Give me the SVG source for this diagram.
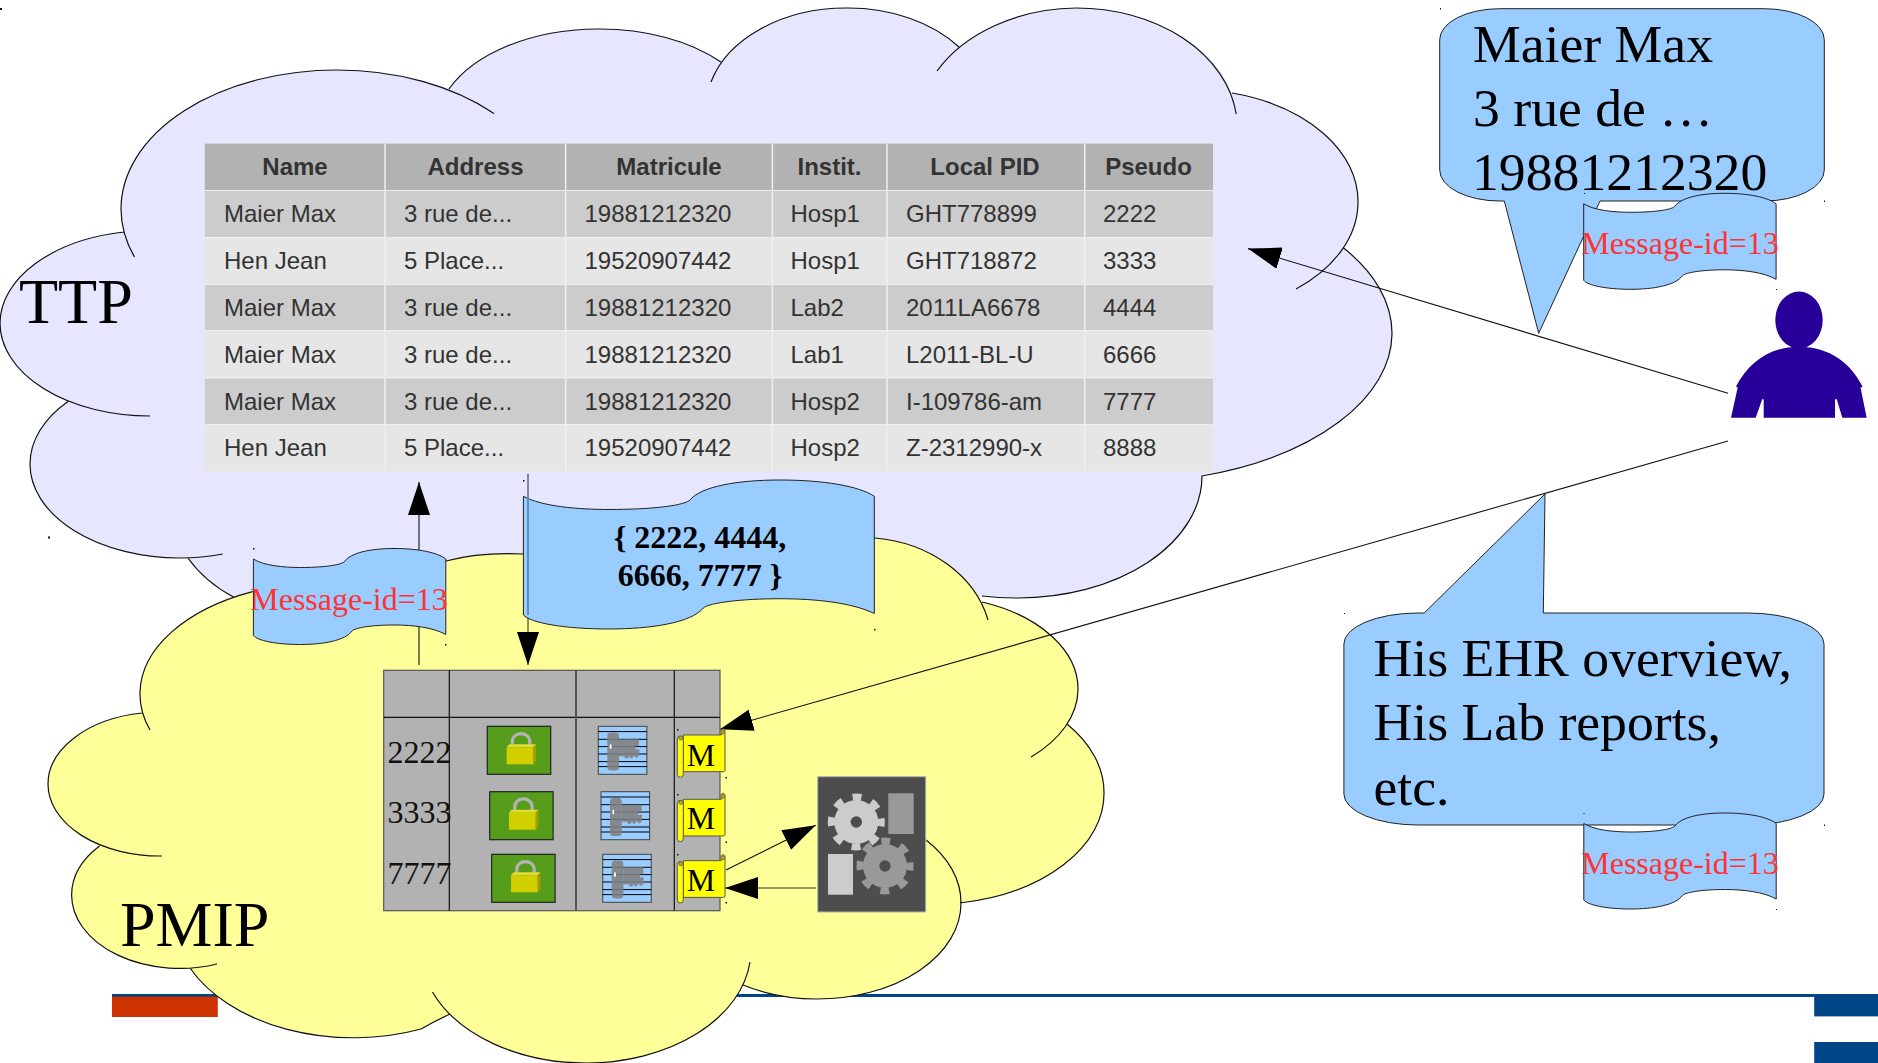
<svg xmlns="http://www.w3.org/2000/svg" xmlns:xlink="http://www.w3.org/1999/xlink" width="1878" height="1063" viewBox="0 0 1878 1063">
<style>
.cl{fill:none;stroke:#111;stroke-width:1.2}
.th{font:bold 24px "Liberation Sans",Arial,sans-serif;fill:#333;text-anchor:middle}
.td{font:24px "Liberation Sans",Arial,sans-serif;fill:#333}
.big{font:64px "Liberation Serif","Times New Roman",serif;fill:#000}
.bub{font:53.7px "Liberation Serif","Times New Roman",serif;fill:#000}
.msg{font:32px "Liberation Serif","Times New Roman",serif;fill:#ff3333;text-anchor:middle}
.num{font:32px "Liberation Serif","Times New Roman",serif;fill:#111}
.mt{font:32px "Liberation Serif","Times New Roman",serif;fill:#000;text-anchor:middle}
.bold{font:bold 32px "Liberation Serif","Times New Roman",serif;fill:#000;text-anchor:middle}
.blue{fill:#99ccff;stroke:#222;stroke-width:1;vector-effect:non-scaling-stroke}
.conn{fill:none;stroke:#111;stroke-width:1.1}
.dot{fill:#111}
</style>
<defs>
<marker id="ah" markerUnits="userSpaceOnUse" markerWidth="33" markerHeight="22" refX="33" refY="11" orient="auto" viewBox="0 0 33 22"><path d="M0,0L33,11L0,22Z" fill="#000"/></marker>
<path id="scroll" class="blue" d="M0,10.5C10,17 30,19 47,19C68,19 86,17 91,13.3C97,4 118,0 140.6,0C165,0 184,4 192.4,10.5V86C180,79 160,76.5 140.6,76.5C120,76.5 102,79 98.6,82.5C92,92 70,96 47,96C22,96 4,92 0,87Z"/>
<g id="lock">
<rect width="63.4" height="48" fill="#579d1c" stroke="#222" stroke-width="1.2"/>
<path d="M25,19V15.5C25,4.500 42.500,4.500 42.500,15.500V19" fill="none" stroke="#b3b3b3" stroke-width="3.200"/>
<path d="M19.300,21L22,18H48.700L46,21Z" fill="#e0dc33"/>
<rect x="19.300" y="21" width="26.700" height="17" fill="#d2cf00"/>
<path d="M46,21L48.700,18V35L46,38Z" fill="#a59e00"/>
</g>
<g id="key">
<rect width="48.600" height="48" fill="#99ccff" stroke="#444" stroke-width="1"/>
<path d="M0,5.300H48.600M0,13H48.600M0,20.300H48.600M0,27.700H48.600M0,35.300H48.600M0,40.300H48.600" stroke="#000" stroke-width="1" fill="none"/>
<rect x="9" y="6.300" width="11.700" height="38" rx="3.500" fill="#808080" opacity=".88"/>
<path d="M20.700,13H40.700V20H37V23H41V29Q38,34 36,29Q33,35 31,30Q28,35 26,30H20.700Z" fill="#808080" opacity=".88"/>
<ellipse cx="12.300" cy="20.300" rx="1" ry="2.500" fill="#fff"/>
</g>
<g id="flag">
<path d="M6,5.700H44V1.500C44,-1 48,-1 47.700,2V41Q47.700,42.400 46,42.400H6Z" fill="#ffff00" stroke="#555" stroke-width="1"/>
<rect x="0" y="6.700" width="6" height="41.300" rx="3" fill="#ffff00" stroke="#555" stroke-width="1"/>
<circle cx="45.300" cy="2.800" r="2" fill="#c8a800" stroke="#555" stroke-width=".7"/>
<circle cx="3.500" cy="8.800" r="2" fill="#c8a800" stroke="#555" stroke-width=".7"/>
</g>
</defs>

<g id="footer">
<rect x="112" y="994" width="1702.500" height="3" fill="#004586"/>
<rect x="112" y="996.600" width="105.800" height="20.400" fill="#cc3300"/>
<rect x="1814.200" y="994" width="63.800" height="22.400" fill="#004586"/>
<rect x="1814.200" y="1042" width="63.800" height="21" fill="#004586"/>
</g>

<g id="ttp-cloud">
<path fill="#e6e6ff" d="M124,232A216,139 0 0 1 121,209A216,139 0 0 1 337,70A216,139 0 0 1 449,89A163,100 0 0 1 597,29A163,100 0 0 1 721,62A140,100 0 0 1 846,8A140,100 0 0 1 959,47A161,120 0 0 1 1076,8A161,120 0 0 1 1232,93A168,112 0 0 1 1358,203A168,112 0 0 1 1343,247.500A272,150 0 0 1 1392,334A272,150 0 0 1 1202,476A184,122 0 0 1 1018,598A184,122 0 0 1 982,596L233.500,597Q205,582 187.500,557.500A150,94 0 0 1 30,464A150,94 0 0 1 68,402A150,93 0 0 1 0,323A150,93 0 0 1 124,232Z"/>
<path class="cl" d="M124,232A150,93 0 0 0 0,323A150,93 0 0 0 150,416M134.500,257A216,139 0 0 1 121,209A216,139 0 0 1 337,70A216,139 0 0 1 494,113.500M449,89A163,100 0 0 1 597,29A163,100 0 0 1 721,62M711,82A140,100 0 0 1 846,8A140,100 0 0 1 959,47M937,71A161,120 0 0 1 1076,8A161,120 0 0 1 1236.200,114M1232,93A168,112 0 0 1 1358,203A168,112 0 0 1 1296,289M1343,247.500A272,150 0 0 1 1392,334A272,150 0 0 1 1202,476A184,122 0 0 1 1018,598A184,122 0 0 1 982,596M68,401.500A150,94 0 0 0 30,464A150,94 0 0 0 180,558A150,94 0 0 0 222.700,554M187.500,557.500Q205,582 233.500,597"/>
<text class="big" x="19" y="322.500">TTP</text>
</g>

<g id="ttp-table">
<rect x="204.800" y="143.600" width="1008.200" height="327.800" fill="#efefef"/>
<rect x="204.800" y="143.600" width="1008.200" height="46.400" fill="#b2b2b2"/>
<rect x="204.800" y="191" width="1008.200" height="46" fill="#cccccc"/>
<rect x="204.800" y="238" width="1008.200" height="46" fill="#e6e6e6"/>
<rect x="204.800" y="285" width="1008.200" height="45" fill="#cccccc"/>
<rect x="204.800" y="331" width="1008.200" height="46" fill="#e6e6e6"/>
<rect x="204.800" y="378.500" width="1008.200" height="45.500" fill="#cccccc"/>
<rect x="204.800" y="425" width="1008.200" height="46.400" fill="#e6e6e6"/>
<path d="M385,143.600V471.400M565.600,143.600V471.400M772.400,143.600V471.400M887,143.600V471.400M1084.700,143.600V471.400" stroke="#f0f0f0" stroke-width="1.500" fill="none"/>
<text class="th" x="295" y="175">Name</text><text class="th" x="475.500" y="175">Address</text><text class="th" x="669" y="175">Matricule</text><text class="th" x="829.500" y="175">Instit.</text><text class="th" x="985" y="175">Local PID</text><text class="th" x="1148.500" y="175">Pseudo</text>
<g class="td">
<text x="224" y="222">Maier Max</text><text x="404" y="222">3 rue de...</text><text x="584.500" y="222">19881212320</text><text x="790.500" y="222">Hosp1</text><text x="906" y="222">GHT778899</text><text x="1103" y="222">2222</text>
<text x="224" y="269">Hen Jean</text><text x="404" y="269">5 Place...</text><text x="584.500" y="269">19520907442</text><text x="790.500" y="269">Hosp1</text><text x="906" y="269">GHT718872</text><text x="1103" y="269">3333</text>
<text x="224" y="316">Maier Max</text><text x="404" y="316">3 rue de...</text><text x="584.500" y="316">19881212320</text><text x="790.500" y="316">Lab2</text><text x="906" y="316">2011LA6678</text><text x="1103" y="316">4444</text>
<text x="224" y="363">Maier Max</text><text x="404" y="363">3 rue de...</text><text x="584.500" y="363">19881212320</text><text x="790.500" y="363">Lab1</text><text x="906" y="363">L2011-BL-U</text><text x="1103" y="363">6666</text>
<text x="224" y="410">Maier Max</text><text x="404" y="410">3 rue de...</text><text x="584.500" y="410">19881212320</text><text x="790.500" y="410">Hosp2</text><text x="906" y="410">I-109786-am</text><text x="1103" y="410">7777</text>
<text x="224" y="456">Hen Jean</text><text x="404" y="456">5 Place...</text><text x="584.500" y="456">19520907442</text><text x="790.500" y="456">Hosp2</text><text x="906" y="456">Z-2312990-x</text><text x="1103" y="456">8888</text>
</g>
</g>

<g id="pmip-cloud">
<path fill="#ffff99" d="M252.600,591.600L446,561Q480,552 523,554L875,538A130,108 0 0 1 982,602A148,93 0 0 1 1078,690A148,93 0 0 1 1067,724A174,111 0 0 1 1104,793A174,111 0 0 1 960,903A144,96 0 0 1 817,999A144,96 0 0 1 743,985A165,113 0 0 1 587,1063A165,113 0 0 1 450,1014Q435,1021 421,1029A180,120 0 0 1 190,968A108.400,73.500 0 0 1 71.600,895A108.400,73.500 0 0 1 99.500,846A112,72 0 0 1 48,784A112,72 0 0 1 142,713A190,112 0 0 1 140,692A190,112 0 0 1 252.600,591.600Z"/>
<path class="cl" d="M252.600,591.600A190,112 0 0 0 140,692A190,112 0 0 0 150,730M142,713A112,72 0 0 0 48,784A112,72 0 0 0 162,856M99.500,846A108.400,73.500 0 0 0 71.600,895A108.400,73.500 0 0 0 217,964M190,968A180,120 0 0 0 421,1029Q435,1021 450,1014M432.500,992A165,113 0 0 0 587,1063A165,113 0 0 0 750,962M743,985A144,96 0 0 0 817,999A144,96 0 0 0 961,903A144,96 0 0 0 926,840M960,903A174,111 0 0 0 1104,793A174,111 0 0 0 1067,724M1031,757A148,93 0 0 0 1078,690A148,93 0 0 0 982,602M875,538A130,108 0 0 1 988,620M446,561Q480,552 523,554"/>
<text class="big" x="120" y="946">PMIP</text>
</g>

<g id="connectors">
<path class="conn" d="M419,665V482" marker-end="url(#ah)"/>
<path d="M528,474V665" fill="none" stroke="#666" stroke-width="1.500" marker-end="url(#ah)"/>
<path class="conn" d="M1728,393.300L1248,248.600" marker-end="url(#ah)"/>
<path class="conn" d="M1728,441L720,729.300" marker-end="url(#ah)"/>
<path class="conn" d="M726,870L815.700,825.300" marker-end="url(#ah)"/>
<path d="M816,888L725,888" fill="none" stroke="#333" stroke-width="1.100" marker-end="url(#ah)"/>
</g>

<g id="message-scroll-1">
<use xlink:href="#scroll" href="#scroll" transform="translate(253.400,548.500)"/>
<text class="msg" x="349" y="609.500">Message-id=13</text>
</g>

<g id="pseudonym-scroll">
<use xlink:href="#scroll" href="#scroll" transform="translate(523.400,480) scale(1.824,1.552)"/>
<path d="M528,497V615" stroke="#5f8fbf" stroke-width="2" fill="none"/>
<text class="bold" x="700" y="548">{ 2222, 4444,</text>
<text class="bold" x="700" y="586">6666, 7777 }</text>
</g>

<g id="pmip-table">
<rect x="383.700" y="670.300" width="336.300" height="240.400" fill="#b2b2b2" stroke="#555" stroke-width="1.200"/>
<path d="M383.700,717.300H720M449.300,670.300V910.700M674.300,670.300V910.700" stroke="#111" stroke-width="1.200" fill="none"/>
<path d="M576,670.300V910.700" stroke="#555" stroke-width="2" fill="none"/>
<text class="num" x="387.500" y="763.300">2222</text><text class="num" x="387.500" y="823">3333</text><text class="num" x="387.500" y="884">7777</text>
<use xlink:href="#lock" href="#lock" x="487.300" y="726.300"/><use xlink:href="#lock" href="#lock" x="489.700" y="791.700"/><use xlink:href="#lock" href="#lock" x="491.700" y="854.300"/>
<use xlink:href="#key" href="#key" x="598.300" y="726.300"/><use xlink:href="#key" href="#key" x="601" y="791.700"/><use xlink:href="#key" href="#key" x="602.700" y="854.300"/>
</g>

<g id="m-flags">
<use xlink:href="#flag" href="#flag" x="677.300" y="729.300"/><text class="mt" x="701" y="765.700">M</text>
<use xlink:href="#flag" href="#flag" x="677.300" y="793.600"/><text class="mt" x="701" y="829.300">M</text>
<use xlink:href="#flag" href="#flag" x="677.300" y="855"/><text class="mt" x="701" y="890.700">M</text>
</g>

<g id="gears">
<rect x="817.700" y="776.700" width="108" height="135.300" fill="#4d4d4d" stroke="#b2b2b2" stroke-width="1"/>
<circle cx="856.300" cy="822" r="22" fill="#cccccc"/>
<circle cx="856.300" cy="822" r="25" fill="none" stroke="#cccccc" stroke-width="7" stroke-dasharray="9 10.630" stroke-dashoffset="4.500"/>
<circle cx="856.300" cy="822" r="5.700" fill="#4d4d4d"/>
<rect x="888.300" y="793.300" width="25.400" height="40.700" fill="#999999"/>
<rect x="828" y="854" width="25" height="40.700" fill="#cccccc"/>
<circle cx="885" cy="866" r="22" fill="#999999"/>
<circle cx="885" cy="866" r="25" fill="none" stroke="#999999" stroke-width="7" stroke-dasharray="9 10.630" stroke-dashoffset="4.500"/>
<circle cx="885" cy="866" r="5.700" fill="#4d4d4d"/>
</g>

<g id="bubble-identity">
<path class="blue" d="M1499.700,8.700H1764.300A60,31 0 0 1 1824.300,39.700V170A60,31 0 0 1 1764.300,201H1600L1538.700,333.300L1504.300,201H1499.700A60,31 0 0 1 1439.700,170V39.700A60,31 0 0 1 1499.700,8.700Z"/>
<text class="bub" x="1473" y="62">Maier Max</text>
<text class="bub" x="1473" y="126">3 rue de …</text>
<text class="bub" x="1472" y="190">19881212320</text>
</g>
<g id="message-scroll-2">
<use xlink:href="#scroll" href="#scroll" transform="translate(1583.700,193.300)"/>
<text class="msg" x="1680" y="254">Message-id=13</text>
</g>

<g id="bubble-records">
<path class="blue" d="M1424.200,613L1545,494L1543.300,613H1748A76,31 0 0 1 1824,644V794A76,31 0 0 1 1748,825H1418A74,31 0 0 1 1343.900,794V644A74,31 0 0 1 1418,613Z"/>
<text class="bub" x="1373.500" y="676">His EHR overview,</text>
<text class="bub" x="1373.500" y="740">His Lab reports,</text>
<text class="bub" x="1373.500" y="804.500">etc.</text>
</g>
<g id="message-scroll-3">
<use xlink:href="#scroll" href="#scroll" transform="translate(1583.800,813)"/>
<text class="msg" x="1680" y="874">Message-id=13</text>
</g>

<g id="person">
<ellipse cx="1799" cy="320" rx="23.700" ry="28.500" fill="#280099"/>
<path fill="#280099" d="M1799,346.700C1830,346.700 1851,364 1861.700,385L1862.600,387L1860.500,387.500L1866.700,417.700H1842.300L1836.700,399L1835,399.500V417.700H1763.700V399.500L1762.300,399L1755.700,417.700H1731L1737.700,387.500L1736,386.500C1748,364 1768,346.700 1799,346.700Z"/>
</g>

<g id="anchor-dots" class="dot">
<rect x="0" y="8" width="2" height="2"/><rect x="48" y="536.500" width="2" height="2"/><rect x="253" y="548" width="1.500" height="1.500"/><rect x="445" y="644" width="1.500" height="1.500"/><rect x="523" y="480" width="1.500" height="1.500"/><rect x="874" y="629" width="1.500" height="1.500"/>
<rect x="677" y="729" width="1.500" height="1.500"/><rect x="725.500" y="777" width="1.500" height="1.500"/><rect x="677" y="794" width="1.500" height="1.500"/><rect x="725.500" y="841.500" width="1.500" height="1.500"/><rect x="677" y="854" width="1.500" height="1.500"/><rect x="725.500" y="902" width="1.500" height="1.500"/>
<rect x="1440" y="8" width="1" height="1.500"/><rect x="1824" y="200.500" width="1" height="1.500"/><rect x="1584" y="193" width="1" height="1"/><rect x="1776" y="289" width="1" height="1"/><rect x="1344" y="613" width="1" height="1"/><rect x="1824" y="824.500" width="1" height="1.500"/><rect x="1583.500" y="813" width="1" height="1"/><rect x="1776" y="909" width="1" height="1"/>
</g>
</svg>
